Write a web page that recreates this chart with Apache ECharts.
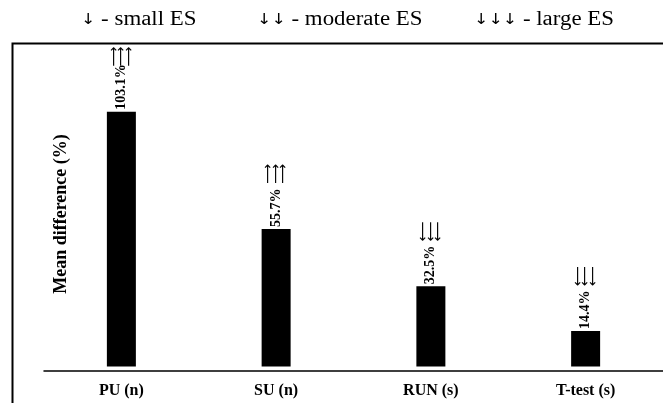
<!DOCTYPE html>
<html>
<head>
<meta charset="utf-8">
<script src="https://cdn.jsdelivr.net/npm/echarts@6/dist/echarts.min.js"></script>
<style>html,body{margin:0;padding:0;background:#fff;}#c{width:663px;height:403px;}</style>
</head>
<body>
<div id="c"></div>
<script>
const categories = ['PU (n)', 'SU (n)', 'RUN (s)', 'T-test (s)'];
const meanDiff = [103.1, 55.7, 32.5, 14.4];
const effectArrows = ['↑↑↑', '↑↑↑', '↓↓↓', '↓↓↓'];
const legendTexts = ['↓ - small ES', '↓↓ - moderate ES', '↓↓↓ - large ES'];
const yTitle = 'Mean difference (%)';

const serif = '"Liberation Serif", "DejaVu Serif", serif';
// arrows are drawn as long sideways arrows rotated by 90° so they are tall and thin
const toRotated = s => s.split('').map(c => (c === '↑' ? '⟶' : '⟵')).join('\n');
const legendRich = t => {
  const parts = t.split(' ');
  return '{a|' + parts[0] + '}{b| ' + parts.slice(1).join(' ') + '}';
};
const legendX = [81, 257, 474];

const chart = echarts.init(document.getElementById('c'), null, {renderer: 'canvas'});
chart.setOption({
  animation: false,
  backgroundColor: '#fff',
  grid: {left: 44, right: 0, top: 70, bottom: 32.5},
  xAxis: {
    type: 'category',
    data: categories,
    axisLine: {onZero: false, lineStyle: {color: '#000', width: 1.5}},
    axisTick: {show: false},
    axisLabel: {color: '#000', fontFamily: serif, fontWeight: 'bold', fontSize: 16, margin: 12}
  },
  yAxis: {
    type: 'value',
    min: -1.6,
    max: 120,
    axisLine: {show: false},
    axisTick: {show: false},
    axisLabel: {show: false},
    splitLine: {show: false}
  },
  series: [
    {
      type: 'bar',
      data: meanDiff,
      barWidth: 29,
      itemStyle: {color: '#000'},
      label: {
        show: true,
        position: 'top',
        distance: 2,
        rotate: 90,
        align: 'left',
        verticalAlign: 'middle',
        formatter: p => p.value + '%',
        color: '#000',
        fontFamily: serif,
        fontWeight: 'bold',
        fontSize: 14
      }
    },
    {
      type: 'bar',
      data: meanDiff,
      barWidth: 29,
      barGap: '-100%',
      silent: true,
      itemStyle: {color: 'rgba(0,0,0,0)'},
      label: {
        show: true,
        position: 'top',
        distance: 45,
        rotate: 90,
        align: 'left',
        verticalAlign: 'middle',
        formatter: p => toRotated(effectArrows[p.dataIndex]),
        color: '#000',
        fontFamily: '"DejaVu Sans", sans-serif',
        fontSize: 14,
        lineHeight: 7.5
      }
    }
  ],
  graphic: [
    {type: 'rect', left: 10, top: 41, shape: {x: 0, y: 0, width: 700, height: 420}, style: {fill: 'none', stroke: '#000', lineWidth: 2}, silent: true},
    {type: 'text', x: 61, y: 214, rotation: Math.PI / 2, style: {text: yTitle, font: 'bold 18px ' + serif, fill: '#000', align: 'center', verticalAlign: 'middle'}}
  ].concat(legendTexts.map((t, i) => ({
    type: 'text', x: legendX[i], y: 20, scaleX: 1.145,
    style: {
      text: legendRich(t), fill: '#000', verticalAlign: 'middle',
      rich: {
        a: {fontFamily: '"DejaVu Sans", sans-serif', fontSize: 15, fill: '#000', verticalAlign: 'middle'},
        b: {fontFamily: serif, fontSize: 20, fill: '#000', verticalAlign: 'middle'}
      }
    }
  })))
});
</script>
</body>
</html>
